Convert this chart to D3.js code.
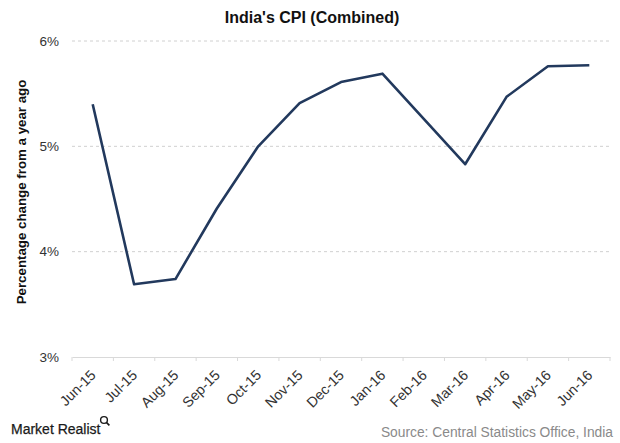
<!DOCTYPE html>
<html><head><meta charset="utf-8">
<script src="https://cdn.jsdelivr.net/npm/d3@7"></script>
<style>body{margin:0;background:#fff}svg{display:block;font-family:"Liberation Sans",Arial,sans-serif}</style>
</head><body><svg id="c" width="620" height="443"></svg>
<script>
const months = ["Jun-15","Jul-15","Aug-15","Sep-15","Oct-15","Nov-15","Dec-15","Jan-16","Feb-16","Mar-16","Apr-16","May-16","Jun-16"];
const cpi = [5.40,3.69,3.74,4.41,5.00,5.41,5.61,5.69,5.26,4.83,5.47,5.76,5.77];
const yTicks = [3,4,5,6];
const title = "India's CPI (Combined)";
const yTitle = "Percentage change from a year ago";
const source = "Source: Central Statistics Office, India";

const svg = d3.select("#c");
const x = d3.scaleBand().domain(months).range([72,610]);
const y = d3.scaleLinear().domain([3,6]).range([357,41]);

// gridlines
svg.append("g").selectAll("line").data(yTicks.filter(d=>d>3)).join("line")
  .attr("x1",72).attr("x2",610).attr("y1",d=>y(d)).attr("y2",d=>y(d))
  .attr("stroke","#d0d0d0").attr("stroke-width",1).attr("stroke-dasharray","3,3");

// x axis
const xa = svg.append("g").attr("transform","translate(0,357)")
  .call(d3.axisBottom(x).tickSize(0).tickPadding(0));
xa.select(".domain").attr("stroke","#d9d9d9").attr("stroke-width",1.2);
xa.selectAll(".tick text")
  .attr("font-size",14.3).attr("fill","#333").attr("font-family","Liberation Sans, Arial, sans-serif")
  .attr("text-anchor","end").attr("dy",null).attr("y",0)
  .attr("transform","translate(4,19) rotate(-45)");
// tick marks between categories
svg.append("g").selectAll("line").data(d3.range(months.length+1)).join("line")
  .attr("x1",i=>72+i*x.step()).attr("x2",i=>72+i*x.step()).attr("y1",357).attr("y2",361)
  .attr("stroke","#d9d9d9");

// y axis labels
const ya = svg.append("g").attr("transform","translate(59,0)")
  .call(d3.axisLeft(y).tickValues(yTicks).tickFormat(d=>d+"%").tickSize(0).tickPadding(0));
ya.select(".domain").remove();
ya.selectAll(".tick text").attr("font-size",13.5).attr("fill","#333").attr("font-family","Liberation Sans, Arial, sans-serif");

// line
svg.append("path").datum(cpi)
  .attr("fill","none").attr("stroke","#22395d").attr("stroke-width",2.6).attr("stroke-linejoin","round")
  .attr("d", d3.line().x((d,i)=>x(months[i])+x.bandwidth()/2).y(d=>y(d)));

// title
svg.append("text").attr("x",312).attr("y",23).attr("text-anchor","middle")
  .attr("font-size",16).attr("font-weight","bold").attr("fill","#111").text(title);
// y title
svg.append("text").attr("transform","translate(26,192) rotate(-90)").attr("text-anchor","middle")
  .attr("font-size",13.3).attr("font-weight","bold").attr("fill","#111").text(yTitle);
// source
svg.append("text").attr("x",613).attr("y",437).attr("text-anchor","end")
  .attr("font-size",13.8).attr("fill","#8a8a8a").text(source);
// logo
svg.append("text").attr("x",11).attr("y",434).attr("font-size",14).attr("fill","#1a1a1a")
  .attr("stroke","#1a1a1a").attr("stroke-width",0.25).text("Market Realist");
const lg = svg.append("g").attr("transform","translate(104,420)");
lg.append("circle").attr("r",3.4).attr("fill","none").attr("stroke","#1a1a1a").attr("stroke-width",1.4);
lg.append("line").attr("x1",2.4).attr("y1",2.4).attr("x2",5.4).attr("y2",5.4).attr("stroke","#1a1a1a").attr("stroke-width",1.6);
</script></body></html>
